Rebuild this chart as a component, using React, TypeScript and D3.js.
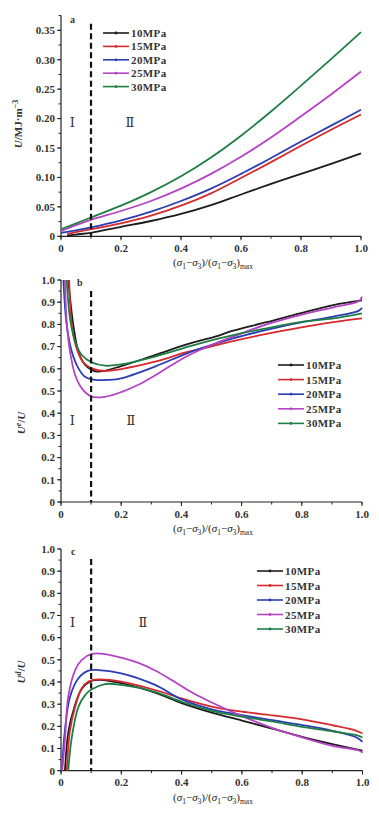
import React from 'react';
import * as d3 from 'd3';

const seriesNames = ['10MPa', '15MPa', '20MPa', '25MPa', '30MPa'];
const seriesColors = ['#1c1c1c', '#d62a2e', '#2c3cb2', '#b444c4', '#1f7e46'];

// Panel a: U (MJ·m^-3)
const aX10 = [0.02, 0.05, 0.1, 0.2, 0.3, 0.4, 0.5, 0.6, 0.7, 0.8, 0.9, 1.0];
const aY10 = [0.001, 0.003, 0.006, 0.016, 0.026, 0.038, 0.053, 0.071, 0.089, 0.106, 0.123, 0.141];
const aX15 = [0.02, 0.05, 0.1, 0.2, 0.3, 0.4, 0.5, 0.6, 0.7, 0.8, 0.9, 1.0];
const aY15 = [0.004, 0.007, 0.012, 0.022, 0.035, 0.052, 0.073, 0.099, 0.126, 0.154, 0.181, 0.207];
const aX20 = [0.0, 0.05, 0.1, 0.2, 0.3, 0.4, 0.5, 0.6, 0.7, 0.8, 0.9, 1.0];
const aY20 = [0.006, 0.010, 0.015, 0.027, 0.042, 0.060, 0.081, 0.106, 0.133, 0.161, 0.188, 0.215];
const aX25 = [0.0, 0.05, 0.1, 0.2, 0.3, 0.4, 0.5, 0.6, 0.7, 0.8, 0.9, 1.0];
const aY25 = [0.009, 0.019, 0.028, 0.043, 0.060, 0.081, 0.106, 0.135, 0.168, 0.204, 0.241, 0.280];
const aX30 = [0.0, 0.05, 0.1, 0.2, 0.3, 0.4, 0.5, 0.6, 0.7, 0.8, 0.9, 1.0];
const aY30 = [0.012, 0.022, 0.032, 0.052, 0.075, 0.102, 0.134, 0.171, 0.212, 0.256, 0.301, 0.347];

// Panel b: Ue/U
const bX10 = [0.024, 0.041, 0.058, 0.08, 0.102, 0.124, 0.2, 0.312, 0.423, 0.512, 0.572, 0.683, 0.794, 0.905, 1.0];
const bY10 = [1.0, 0.797, 0.677, 0.617, 0.595, 0.587, 0.612, 0.662, 0.712, 0.745, 0.772, 0.81, 0.85, 0.887, 0.908];
const bX15 = [0.027, 0.036, 0.052, 0.074, 0.102, 0.146, 0.2, 0.312, 0.423, 0.462, 0.572, 0.683, 0.794, 0.905, 1.0];
const bY15 = [1.0, 0.797, 0.692, 0.629, 0.602, 0.59, 0.599, 0.632, 0.677, 0.688, 0.725, 0.757, 0.785, 0.81, 0.827];
const bX20 = [0.008, 0.019, 0.036, 0.058, 0.08, 0.113, 0.157, 0.2, 0.312, 0.423, 0.512, 0.572, 0.683, 0.794, 0.905, 0.99, 1.0];
const bY20 = [1.0, 0.797, 0.677, 0.602, 0.564, 0.55, 0.55, 0.557, 0.61, 0.672, 0.712, 0.737, 0.775, 0.808, 0.835, 0.862, 0.875];
const bX25 = [0.013, 0.019, 0.03, 0.047, 0.069, 0.1, 0.146, 0.2, 0.257, 0.312, 0.368, 0.423, 0.478, 0.572, 0.683, 0.794, 0.905, 0.99, 1.0];
const bY25 = [1.0, 0.81, 0.677, 0.572, 0.512, 0.476, 0.474, 0.495, 0.528, 0.57, 0.617, 0.66, 0.695, 0.745, 0.8, 0.842, 0.877, 0.905, 0.925];
const bX30 = [0.019, 0.03, 0.047, 0.069, 0.102, 0.146, 0.2, 0.312, 0.423, 0.462, 0.572, 0.683, 0.794, 0.905, 1.0];
const bY30 = [1.0, 0.827, 0.722, 0.662, 0.629, 0.614, 0.62, 0.655, 0.7, 0.715, 0.752, 0.782, 0.81, 0.827, 0.85];

// Panel c: Ud/U
const cX10 = [0.013, 0.025, 0.045, 0.069, 0.1, 0.13, 0.2, 0.312, 0.4, 0.5, 0.6, 0.7, 0.8, 0.9, 1.0];
const cY10 = [0.0, 0.18, 0.29, 0.37, 0.405, 0.41, 0.395, 0.352, 0.305, 0.262, 0.226, 0.19, 0.153, 0.12, 0.09];
const cX15 = [0.019, 0.03, 0.047, 0.069, 0.091, 0.124, 0.2, 0.312, 0.4, 0.5, 0.6, 0.7, 0.8, 0.9, 0.98, 1.0];
const cY15 = [0.0, 0.183, 0.289, 0.372, 0.402, 0.412, 0.402, 0.364, 0.326, 0.289, 0.266, 0.25, 0.232, 0.205, 0.18, 0.168];
const cX20 = [0.003, 0.013, 0.03, 0.058, 0.091, 0.124, 0.2, 0.312, 0.4, 0.5, 0.6, 0.7, 0.8, 0.9, 0.98, 1.0];
const cY20 = [0.0, 0.183, 0.334, 0.417, 0.451, 0.454, 0.439, 0.387, 0.322, 0.277, 0.251, 0.228, 0.206, 0.18, 0.15, 0.13];
const cX25 = [0.004, 0.013, 0.024, 0.047, 0.069, 0.102, 0.146, 0.2, 0.257, 0.312, 0.368, 0.423, 0.478, 0.55, 0.6, 0.7, 0.8, 0.9, 0.99, 1.0];
const cY25 = [0.0, 0.138, 0.334, 0.454, 0.5, 0.527, 0.526, 0.51, 0.486, 0.452, 0.408, 0.362, 0.322, 0.276, 0.246, 0.193, 0.15, 0.112, 0.09, 0.08];
const cX30 = [0.024, 0.036, 0.058, 0.08, 0.102, 0.146, 0.2, 0.312, 0.4, 0.5, 0.6, 0.7, 0.8, 0.9, 0.98, 1.0];
const cY30 = [0.0, 0.153, 0.289, 0.341, 0.367, 0.391, 0.387, 0.356, 0.311, 0.27, 0.244, 0.222, 0.198, 0.178, 0.16, 0.15];

const xTicks = [0, 0.2, 0.4, 0.6, 0.8, 1.0];
const xTickLabels = ['0', '0.2', '0.4', '0.6', '0.8', '1.0'];
const aYTicks = [0, 0.05, 0.1, 0.15, 0.2, 0.25, 0.3, 0.35];
const aYTickLabels = ['0', '0.05', '0.10', '0.15', '0.20', '0.25', '0.30', '0.35'];
const bcYTicks = [0, 0.1, 0.2, 0.3, 0.4, 0.5, 0.6, 0.7, 0.8, 0.9, 1.0];
const bcYTickLabels = ['0', '0.1', '0.2', '0.3', '0.4', '0.5', '0.6', '0.7', '0.8', '0.9', '1.0'];

const FONT = '"Liberation Serif", "DejaVu Serif", "Times New Roman", serif';

type PanelProps = {
  xs: number[][];
  ys: number[][];
  left: number;
  right: number;
  top: number;
  bottom: number;
  yMax: number;
  yTicks: number[];
  yTickLabels: string[];
  yMinorStep: number;
  dashTop: number;
  letter: string;
  letterPos: [number, number];
  romanY: number;
  roman2X: number;
  legendX: number;
  legendY: number;
  legendStep: number;
  yTitle: React.ReactNode;
  yTitlePos: [number, number];
};

function XTitle({ cx, y }: { cx: number; y: number }) {
  return (
    <text x={cx} y={y} textAnchor="middle" fontFamily={FONT} fontSize={11} fill="#222">
      <tspan>(</tspan>
      <tspan fontStyle="italic">σ</tspan>
      <tspan dy={3} fontSize={7.5}>1</tspan>
      <tspan dy={-3}>−</tspan>
      <tspan fontStyle="italic">σ</tspan>
      <tspan dy={3} fontSize={7.5}>3</tspan>
      <tspan dy={-3}>)/(</tspan>
      <tspan fontStyle="italic">σ</tspan>
      <tspan dy={3} fontSize={7.5}>1</tspan>
      <tspan dy={-3}>−</tspan>
      <tspan fontStyle="italic">σ</tspan>
      <tspan dy={3} fontSize={7.5}>3</tspan>
      <tspan dy={-3}>)</tspan>
      <tspan dy={3} fontSize={7.5}>max</tspan>
    </text>
  );
}

function Panel(p: PanelProps) {
  const x = d3.scaleLinear().domain([0, 1]).range([p.left, p.right]);
  const y = d3.scaleLinear().domain([0, p.yMax]).range([p.bottom, p.top]);
  const line = d3
    .line<[number, number]>()
    .x((d) => x(d[0]))
    .y((d) => y(d[1]))
    .curve(d3.curveCatmullRom.alpha(0.5));
  const yMinor = d3.range(0, p.yMax + 1e-9, p.yMinorStep);
  const xMinor = d3.range(0, 1.0001, 0.1);
  const clipId = 'clip-' + p.letter;
  const clipTop = y(Math.min(1, p.yMax));
  return (
    <g>
      <defs>
        <clipPath id={clipId}>
          <rect x={p.left} y={clipTop - 1} width={p.right - p.left + 3} height={p.bottom - clipTop + 1} />
        </clipPath>
      </defs>
      {/* axes */}
      <line x1={p.left} x2={p.left} y1={y(p.yMax)} y2={p.bottom} stroke="#222" strokeWidth={1.2} />
      <line x1={p.left} x2={p.right} y1={p.bottom} y2={p.bottom} stroke="#222" strokeWidth={1.2} />
      {yMinor.map((v, i) => (
        <line key={'ym' + i} x1={p.left - 2.5} x2={p.left} y1={y(v)} y2={y(v)} stroke="#222" strokeWidth={1} />
      ))}
      {p.yTicks.map((v, i) => (
        <g key={'yt' + i}>
          <line x1={p.left - 4} x2={p.left} y1={y(v)} y2={y(v)} stroke="#222" strokeWidth={1} />
          <text x={p.left - 6} y={y(v) + 3.8} textAnchor="end" fontFamily={FONT} fontWeight="bold" fontSize={11} fill="#333">
            {p.yTickLabels[i]}
          </text>
        </g>
      ))}
      {xMinor.map((v, i) => (
        <line key={'xm' + i} x1={x(v)} x2={x(v)} y1={p.bottom} y2={p.bottom + 2.5} stroke="#222" strokeWidth={1} />
      ))}
      {xTicks.map((v, i) => (
        <g key={'xt' + i}>
          <line x1={x(v)} x2={x(v)} y1={p.bottom} y2={p.bottom + 4} stroke="#222" strokeWidth={1} />
          <text x={x(v)} y={p.bottom + 15.5} textAnchor="middle" fontFamily={FONT} fontWeight="bold" fontSize={11} fill="#333">
            {xTickLabels[i]}
          </text>
        </g>
      ))}
      <XTitle cx={213} y={p.bottom + 30} />
      <text
        transform={`translate(${p.yTitlePos[0]},${p.yTitlePos[1]}) rotate(-90)`}
        textAnchor="middle"
        fontFamily={FONT}
        fontWeight="bold"
        fontSize={11}
        fill="#333"
      >
        {p.yTitle}
      </text>
      {/* series */}
      <g clipPath={`url(#${clipId})`}>
        {p.xs.map((xs, si) => (
          <path
            key={'s' + si}
            d={line(xs.map((xv, j) => [xv, p.ys[si][j]] as [number, number])) || ''}
            fill="none"
            stroke={seriesColors[si]}
            strokeWidth={1.8}
            strokeLinejoin="round"
          />
        ))}
      </g>
      {/* stage boundary */}
      <line x1={x(0.1)} x2={x(0.1)} y1={y(p.dashTop)} y2={p.bottom} stroke="#111" strokeWidth={2.2} strokeDasharray="6 3.5" />
      <text x={p.letterPos[0]} y={p.letterPos[1]} fontFamily={FONT} fontWeight="bold" fontSize={10} fill="#333">
        {p.letter}
      </text>
      <text x={x(0.038)} y={p.romanY} textAnchor="middle" fontFamily={FONT} fontSize={13} fill="#333">
        Ⅰ
      </text>
      <text x={p.roman2X} y={p.romanY} textAnchor="middle" fontFamily={FONT} fontSize={13} fill="#333">
        Ⅱ
      </text>
      {/* legend */}
      {seriesNames.map((n, i) => {
        const ly = p.legendY + i * p.legendStep;
        return (
          <g key={'lg' + i}>
            <line x1={p.legendX} x2={p.legendX + 26} y1={ly} y2={ly} stroke={seriesColors[i]} strokeWidth={1.6} />
            <circle cx={p.legendX + 13} cy={ly} r={1.4} fill={seriesColors[i]} />
            <text x={p.legendX + 28} y={ly + 4} fontFamily={FONT} fontWeight="bold" fontSize={11} fill="#333" letterSpacing={0.4}>
              {n}
            </text>
          </g>
        );
      })}
    </g>
  );
}

export default function App() {
  return (
    <svg
      width={379}
      height={820}
      style={{ position: 'absolute', left: 0, top: 0, background: '#fff' }}
      xmlns="http://www.w3.org/2000/svg"
    >
      <Panel
        xs={[aX10, aX15, aX20, aX25, aX30]}
        ys={[aY10, aY15, aY20, aY25, aY30]}
        left={61}
        right={361}
        top={15.6}
        bottom={236.3}
        yMax={0.375}
        yTicks={aYTicks}
        yTickLabels={aYTickLabels}
        yMinorStep={0.025}
        dashTop={0.361}
        letter="a"
        letterPos={[70, 23]}
        romanY={127}
        roman2X={130}
        legendX={103}
        legendY={33}
        legendStep={13.4}
        yTitle={
          <>
            <tspan fontStyle="italic">U</tspan>
            <tspan>/MJ·m</tspan>
            <tspan dy={-4} fontSize={8}>−3</tspan>
          </>
        }
        yTitlePos={[22, 124]}
      />
      <Panel
        xs={[bX10, bX15, bX20, bX25, bX30]}
        ys={[bY10, bY15, bY20, bY25, bY30]}
        left={61}
        right={362}
        top={280}
        bottom={502}
        yMax={1.0}
        yTicks={bcYTicks}
        yTickLabels={bcYTickLabels}
        yMinorStep={0.05}
        dashTop={0.95}
        letter="b"
        letterPos={[77, 286]}
        romanY={425}
        roman2X={131}
        legendX={278}
        legendY={365}
        legendStep={14.6}
        yTitle={
          <>
            <tspan fontStyle="italic">U</tspan>
            <tspan dy={-4} fontSize={8} fontStyle="italic">e</tspan>
            <tspan dy={4}>/</tspan>
            <tspan fontStyle="italic">U</tspan>
          </>
        }
        yTitlePos={[25, 423]}
      />
      <Panel
        xs={[cX10, cX15, cX20, cX25, cX30]}
        ys={[cY10, cY15, cY20, cY25, cY30]}
        left={61}
        right={362.5}
        top={549}
        bottom={770.7}
        yMax={1.0}
        yTicks={bcYTicks}
        yTickLabels={bcYTickLabels}
        yMinorStep={0.05}
        dashTop={0.955}
        letter="c"
        letterPos={[71, 555]}
        romanY={627}
        roman2X={143}
        legendX={257}
        legendY={571}
        legendStep={14.5}
        yTitle={
          <>
            <tspan fontStyle="italic">U</tspan>
            <tspan dy={-4} fontSize={8} fontStyle="italic">d</tspan>
            <tspan dy={4}>/</tspan>
            <tspan fontStyle="italic">U</tspan>
          </>
        }
        yTitlePos={[25, 672]}
      />
    </svg>
  );
}
